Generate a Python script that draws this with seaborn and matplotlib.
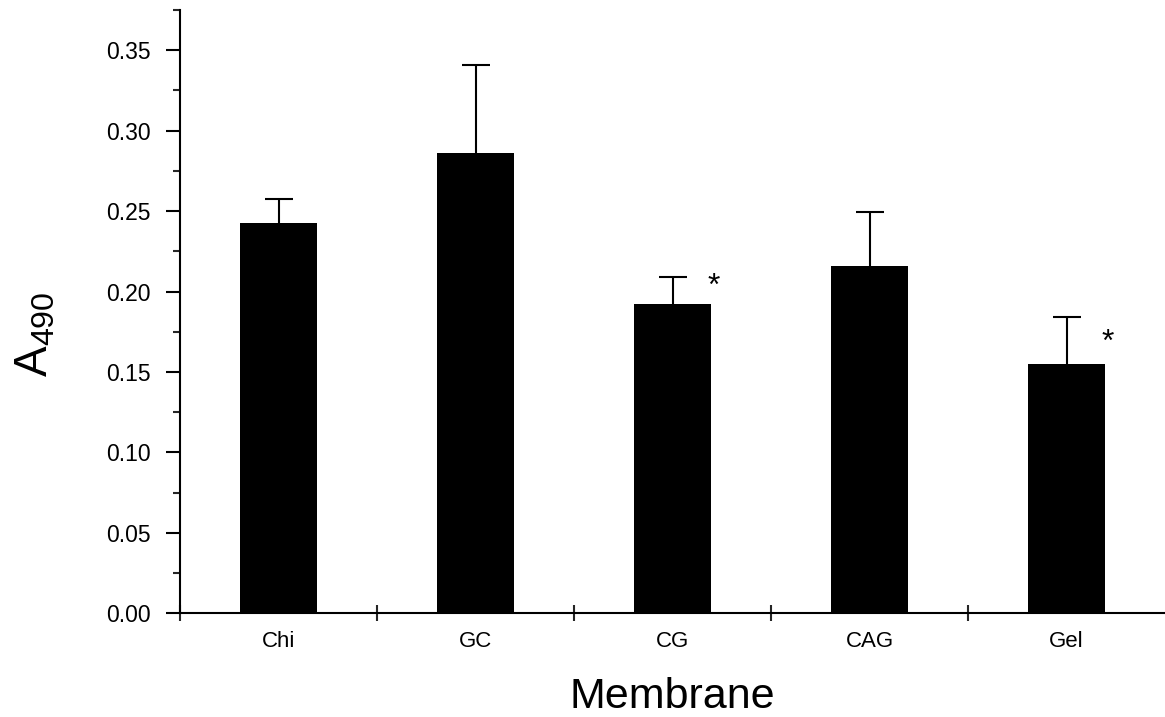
import matplotlib
matplotlib.use("Agg")
import matplotlib.pyplot as plt
from matplotlib import font_manager
from matplotlib.ticker import MultipleLocator, FormatStrFormatter, FixedLocator
import seaborn as sns
import pandas as pd

# ---- data ----
membranes = ["Chi", "GC", "CG", "CAG", "Gel"]
a490_mean = [0.2426, 0.2863, 0.1922, 0.2158, 0.1548]
a490_err = [0.0149, 0.0543, 0.0168, 0.0339, 0.0292]
sig_marks = ["", "", "*", "", "*"]
sig_heights = [0.0, 0.0, 0.207, 0.0, 0.172]

sns.set_theme(style="ticks")
avail = {f.name for f in font_manager.fontManager.ttflist}
tick_font = "Liberation Sans Narrow" if "Liberation Sans Narrow" in avail else "Liberation Sans"
plt.rcParams["font.family"] = ["Liberation Sans", "DejaVu Sans"]
plt.rcParams["mathtext.default"] = "regular"

df = pd.DataFrame({"Membrane": membranes, "A490": a490_mean})

fig = plt.figure(figsize=(11.65, 7.17), dpi=100)
ax = fig.add_axes([180 / 1165, (717 - 613.3) / 717, 985 / 1165, 603.3 / 717])

sns.barplot(data=df, x="Membrane", y="A490", order=membranes, color="black",
            saturation=1, width=0.39, errorbar=None, ax=ax, edgecolor="none")

xpos = list(range(len(membranes)))
eb = ax.errorbar(xpos, a490_mean, yerr=[[0] * len(a490_err), a490_err], fmt="none",
                 ecolor="black", elinewidth=1.5, capsize=10, capthick=1.5, zorder=1)
# hide lower caps (only upper error shown)
eb[1][0].set_visible(False)

for i, (m, h) in enumerate(zip(sig_marks, sig_heights)):
    if m:
        ax.annotate(m, xy=(i + 0.208, h), xytext=(0, -10.3), textcoords="offset points",
                    ha="center", va="baseline", fontsize=23, color="black")

ax.set_xlim(-0.5, 4.5)
ax.set_ylim(0, 0.375)

# y axis ticks
ax.yaxis.set_major_locator(MultipleLocator(0.05))
ax.yaxis.set_minor_locator(MultipleLocator(0.025))
ax.yaxis.set_major_formatter(FormatStrFormatter("%.2f"))
ax.tick_params(axis="y", which="major", direction="out", length=10, width=1.5, pad=11,
               labelsize=16.5, colors="black")
ax.tick_params(axis="y", which="minor", direction="out", length=5, width=1.5)

# x axis: labels at centers, ticks at boundaries
ax.set_xticks(xpos)
ax.set_xticklabels(membranes)
ax.xaxis.set_minor_locator(FixedLocator([-0.5, 0.5, 1.5, 2.5, 3.5]))
ax.tick_params(axis="x", which="major", length=0, pad=13, labelsize=16, colors="black")
ax.tick_params(axis="x", which="minor", direction="inout", length=11, width=1.5)

for lab in ax.get_xticklabels() + ax.get_yticklabels():
    lab.set_fontfamily([tick_font, "DejaVu Sans"])

for s in ["top", "right"]:
    ax.spines[s].set_visible(False)
for s in ["left", "bottom"]:
    ax.spines[s].set_linewidth(1.5)
    ax.spines[s].set_color("black")

ax.set_xlabel("Membrane", fontsize=31, labelpad=18, color="black")
ax.set_ylabel("A$_{490}$", fontsize=33, color="black")
ax.yaxis.set_label_coords(-0.124, 0.463)

fig.savefig("out.png", dpi=100, facecolor="white")
